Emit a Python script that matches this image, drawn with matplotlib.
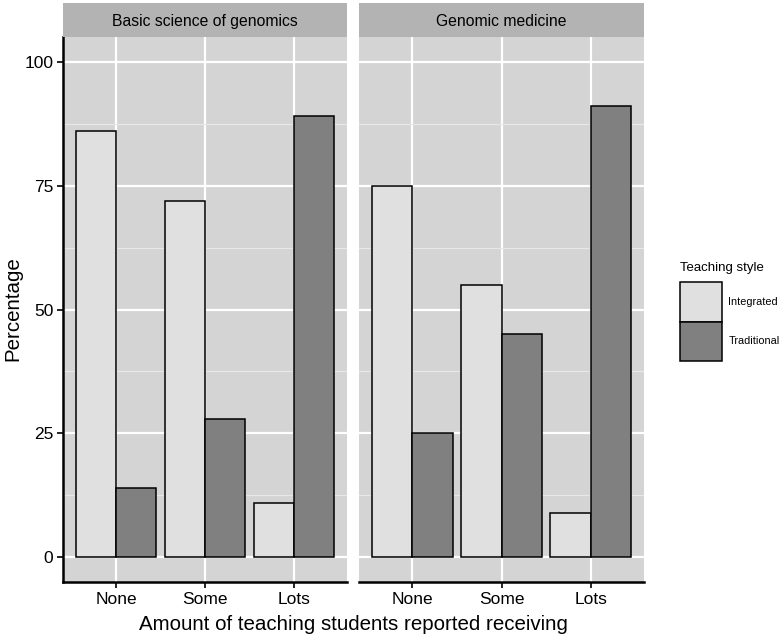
import numpy as np
import matplotlib
matplotlib.use("Agg")
import matplotlib.pyplot as plt
from matplotlib.patches import Patch

# =============================
# DATA
# =============================

facets = ["Basic science of genomics", "Genomic medicine"]
amounts = ["None", "Some", "Lots"]
styles = ["Integrated", "Traditional"]

basic_integrated = [86, 72, 11]
basic_traditional = [14, 28, 89]
medicine_integrated = [75, 55, 9]
medicine_traditional = [25, 45, 91]

y_ticks = [0, 25, 50, 75, 100]

# =============================
# STYLE
# =============================

plt.rcParams["font.family"] = ["Liberation Sans", "DejaVu Sans"]

PANEL_BG = "#D4D4D4"
STRIP_BG = "#B3B3B3"
FILL = {"Integrated": "#E0E0E0", "Traditional": "#808080"}

W, H = 783, 641
fig = plt.figure(figsize=(W / 100, H / 100), dpi=100)


def px_rect(x0, y0, x1, y1):
    # pixel box (top-left origin) -> figure fraction
    return [x0 / W, 1 - y1 / H, (x1 - x0) / W, (y1 - y0) / H]


panels = [
    (facets[0], basic_integrated, basic_traditional, 63, 347),
    (facets[1], medicine_integrated, medicine_traditional, 359, 644),
]

x = np.arange(1, len(amounts) + 1)
bw = 0.45

for i, (title, integ, trad, x0, x1) in enumerate(panels):
    ax = fig.add_axes(px_rect(x0, 37, x1, 582))
    ax.set_facecolor(PANEL_BG)
    ax.set_xlim(0.4, 3.6)
    ax.set_ylim(-5, 105)

    ax.bar(x - bw / 2, integ, width=bw, color=FILL["Integrated"],
           edgecolor="black", linewidth=1.1, zorder=3)
    ax.bar(x + bw / 2, trad, width=bw, color=FILL["Traditional"],
           edgecolor="black", linewidth=1.1, zorder=3)

    ax.set_xticks(x)
    ax.set_xticklabels(amounts, fontsize=12.5)
    ax.set_yticks(y_ticks)
    ax.set_yticks([12.5, 37.5, 62.5, 87.5], minor=True)
    ax.grid(True, which="major", color="white", linewidth=1.6, zorder=1)
    ax.grid(True, which="minor", axis="y", color="#E8E8E8", linewidth=0.8, zorder=1)
    ax.tick_params(axis="both", which="major", length=4, width=1.2,
                   color="black", labelcolor="black", pad=3)
    ax.tick_params(axis="both", which="minor", length=0)

    for s in ["top", "right"]:
        ax.spines[s].set_visible(False)
    ax.spines["bottom"].set_linewidth(1.8)
    ax.spines["left"].set_linewidth(1.8)

    if i == 0:
        ax.set_yticklabels([str(v) for v in y_ticks], fontsize=12.5)
    else:
        ax.spines["left"].set_visible(False)
        ax.tick_params(axis="y", which="both", length=0, labelleft=False)

    # facet strip
    sax = fig.add_axes(px_rect(x0, 3, x1, 37))
    sax.set_facecolor(STRIP_BG)
    sax.set_xticks([])
    sax.set_yticks([])
    for s in sax.spines.values():
        s.set_visible(False)
    sax.text(0.5, 0.45, title, ha="center", va="center", fontsize=11.3,
             transform=sax.transAxes)

fig.text(13 / W, 1 - 309 / H, "Percentage", rotation=90, ha="center",
         va="center", fontsize=14.8)
fig.text(353 / W, 1 - 624 / H, "Amount of teaching students reported receiving",
         ha="center", va="center", fontsize=14.8)

# legend
handles = [Patch(facecolor=FILL[s], edgecolor="black", linewidth=1.1) for s in styles]
leg = fig.legend(handles, styles, title="Teaching style",
                 loc="upper left", bbox_to_anchor=(680 / W, 1 - 262 / H),
                 frameon=False, fontsize=7.8, title_fontsize=9.5,
                 handlelength=3.85, handleheight=5.2, labelspacing=0.0,
                 handletextpad=0.6, borderaxespad=0, borderpad=0)
leg._legend_box.align = "left"
leg._legend_box.sep = 6

fig.savefig("out.png", dpi=100)
